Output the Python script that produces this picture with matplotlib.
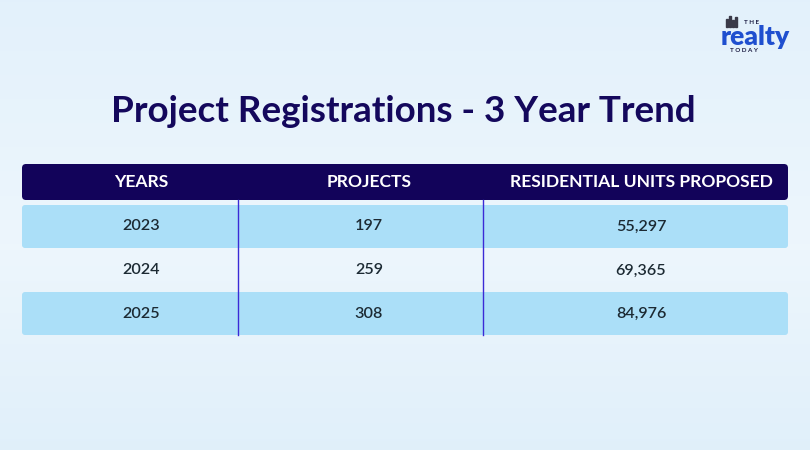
import matplotlib
matplotlib.use("Agg")
import matplotlib.pyplot as plt
from matplotlib.patches import FancyBboxPatch, Rectangle
import numpy as np

title = "Project Registrations - 3 Year Trend"
columns = ["YEARS", "PROJECTS", "RESIDENTIAL UNITS PROPOSED"]
years = ["2023", "2024", "2025"]
projects = [197, 259, 308]
units = [55297, 69365, 84976]

W, H = 810, 450
fig = plt.figure(figsize=(W / 100, H / 100), dpi=100)
ax = fig.add_axes([0, 0, 1, 1])
ax.set_xlim(0, W)
ax.set_ylim(H, 0)
ax.axis("off")

# background gradient
grad = np.linspace(0, 1, 200).reshape(-1, 1)
bg = np.zeros((200, 1, 3))
top = np.array([0.89, 0.945, 0.985])
mid = np.array([0.93, 0.965, 0.99])
bot = np.array([0.88, 0.94, 0.98])
g = grad[:, 0]
for k in range(3):
    bg[:, 0, k] = np.interp(g, [0, 0.55, 1], [top[k], mid[k], bot[k]])
ax.imshow(bg, extent=[0, W, H, 0], aspect="auto", zorder=0)

font = "Lato"
ax.text(W / 2 - 2, 111, title, ha="center", va="center", fontsize=26.5,
        fontweight="bold", color="#14085c", family=font, zorder=5)

# logo
for i, hh in enumerate([8, 11, 7, 10]):
    ax.add_patch(Rectangle((726 + i * 3, 27 - hh), 2, hh, color="#3a3a48", zorder=5))
ax.text(751, 23, "T H E", ha="center", va="center", fontsize=4.5, fontweight="bold",
        color="#1a1a40", family=font, zorder=5)
ax.text(755, 37, "realty", ha="center", va="center", fontsize=19, fontweight="heavy",
        color="#1f4fcf", family=font, zorder=5)
ax.text(744, 51, "T O D A Y", ha="center", va="center", fontsize=4.5, fontweight="bold",
        color="#1a1a40", family=font, zorder=5)

x0, x1 = 22, 788
col_x = [22, 238, 483, 788]
centers = [141, 369, 641]

# header
ax.add_patch(FancyBboxPatch((x0, 164), x1 - x0, 36,
                            boxstyle="round,pad=0,rounding_size=4",
                            fc="#12035a", ec="none", zorder=2))
for c, lab in zip(centers, columns):
    ax.text(c, 182, lab, ha="center", va="center", fontsize=12.6, fontweight="bold",
            color="white", family=font, zorder=5)

row_tops = [205, 249, 292]
row_h = 43
for i, (yr, p, u) in enumerate(zip(years, projects, units)):
    yt = row_tops[i]
    if i % 2 == 0:
        ax.add_patch(FancyBboxPatch((x0, yt), x1 - x0, row_h,
                                    boxstyle="round,pad=0,rounding_size=3",
                                    fc="#abdff8", ec="none", zorder=2))
    yc = yt + row_h / 2
    vals = [yr, f"{p}", f"{u:,}"]
    for c, v in zip(centers, vals):
        ax.text(c, yc, v, ha="center", va="center", fontsize=11.6, fontweight="semibold",
                color="#1c2a33", family=font, zorder=5)

for xv in col_x[1:3]:
    ax.plot([xv, xv], [200, 335], color="#3b2ad6", lw=1, zorder=4)

fig.savefig("out.png", dpi=100)
